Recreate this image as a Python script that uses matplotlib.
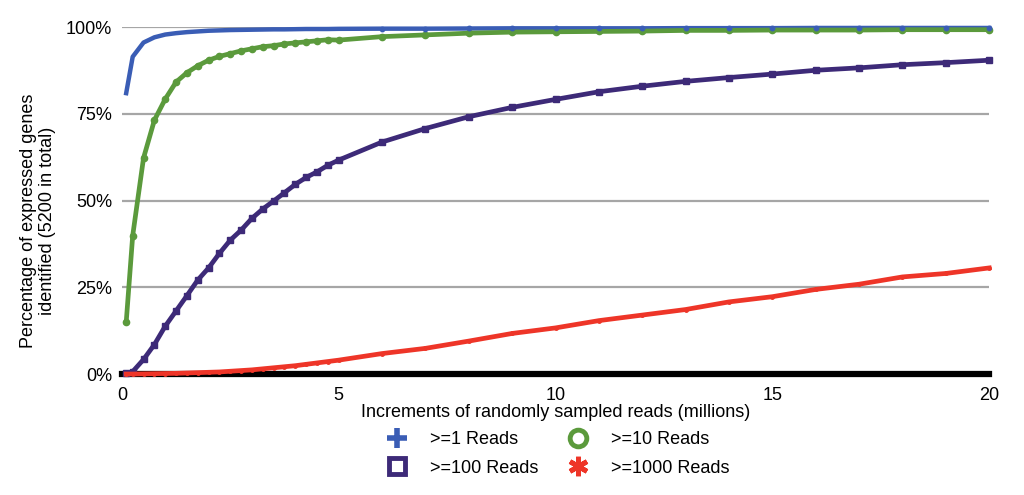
import matplotlib
matplotlib.use("Agg")
import matplotlib.pyplot as plt
from matplotlib.lines import Line2D

plt.rcParams['font.family'] = ['Liberation Sans', 'DejaVu Sans']

x_reads = [0.1, 0.25, 0.5, 0.75, 1.0, 1.25, 1.5, 1.75, 2.0, 2.25, 2.5, 2.75,
           3.0, 3.25, 3.5, 3.75, 4.0, 4.25, 4.5, 4.75, 5.0,
           6, 7, 8, 9, 10, 11, 12, 13, 14, 15, 16, 17, 18, 19, 20]

ge1 = [81.0, 91.5, 95.6, 97.1, 97.9, 98.3, 98.6, 98.8, 99.0, 99.1, 99.2, 99.25,
       99.3, 99.35, 99.4, 99.4, 99.45, 99.5, 99.5, 99.5, 99.55,
       99.6, 99.6, 99.65, 99.7, 99.7, 99.7, 99.7, 99.75, 99.75, 99.75, 99.8,
       99.8, 99.8, 99.8, 99.8]

ge10 = [14.9, 39.9, 62.3, 73.2, 79.3, 84.2, 86.9, 88.9, 90.5, 91.6, 92.4, 93.2,
        93.8, 94.4, 94.7, 95.2, 95.5, 95.8, 96.1, 96.4, 96.3,
        97.3, 97.8, 98.3, 98.6, 98.7, 98.8, 98.9, 99.1, 99.1, 99.2, 99.2,
        99.2, 99.3, 99.3, 99.3]

ge100 = [0.2, 0.7, 4.2, 8.5, 13.8, 18.2, 22.6, 27.1, 30.6, 34.8, 38.6, 41.5,
         44.9, 47.6, 49.9, 52.3, 54.7, 56.7, 58.3, 60.2, 61.7,
         66.9, 70.8, 74.2, 76.9, 79.2, 81.4, 83.0, 84.4, 85.5, 86.5, 87.6,
         88.3, 89.2, 89.8, 90.5]

ge1000 = [0.0, 0.0, 0.05, 0.1, 0.15, 0.2, 0.3, 0.4, 0.5, 0.6, 0.8, 1.0,
          1.2, 1.5, 1.8, 2.1, 2.4, 2.8, 3.2, 3.6, 4.0,
          5.9, 7.4, 9.5, 11.7, 13.3, 15.4, 17.0, 18.6, 20.8, 22.3, 24.4,
          25.9, 28.0, 29.0, 30.6]

labels = [">=1 Reads", ">=10 Reads", ">=100 Reads", ">=1000 Reads"]
y_ticks = [0, 25, 50, 75, 100]
y_ticklabels = ["0%", "25%", "50%", "75%", "100%"]
x_ticks = [0, 5, 10, 15, 20]

c_blue = "#3a5db5"
c_green = "#5b9a3c"
c_purple = "#3d2a78"
c_red = "#ee3528"

fig = plt.figure(figsize=(10.24, 4.95), dpi=100)
ax = fig.add_axes([0.119, 0.2444, 0.847, 0.7005])

for y in y_ticks[1:]:
    ax.axhline(y, color="#a6a6a6", lw=1.6, zorder=1)

ax.plot(x_reads, ge1, color=c_blue, lw=3.2, zorder=3, clip_on=False)
ax.plot(x_reads, ge10, color=c_green, lw=3.4, marker='o', ms=4.5, zorder=3.1, clip_on=False)
ax.plot(x_reads[21:], ge1[21:], color=c_blue, lw=0, marker='o', ms=3.2, zorder=3.2, clip_on=False)
ax.plot(x_reads, ge100, color=c_purple, lw=3.4, marker='s', ms=4.5, zorder=3, clip_on=False)
ax.plot(x_reads, ge1000, color=c_red, lw=3.4, marker='o', ms=2.5, zorder=3.3, clip_on=False)

ax.set_xlim(0, 20)
ax.set_ylim(0, 100)
for s in ['top', 'right', 'left']:
    ax.spines[s].set_visible(False)
ax.spines['bottom'].set_linewidth(4.5)
ax.spines['bottom'].set_color('black')
ax.spines['bottom'].set_zorder(2)

ax.set_yticks(y_ticks)
ax.set_yticklabels(y_ticklabels)
ax.set_xticks(x_ticks)
ax.tick_params(axis='y', length=0, labelsize=13, pad=7)
ax.tick_params(axis='x', length=0, labelsize=13, pad=9)

ax.set_xlabel("Increments of randomly sampled reads (millions)", fontsize=13, labelpad=0)
fig.text(0.037, 0.553, "Percentage of expressed genes\nidentified (5200 in total)",
         rotation=90, ha='center', va='center', fontsize=13, linespacing=1.15)

handles = [
    Line2D([], [], color=c_blue, lw=0, marker='+', ms=14, mew=4, mec=c_blue),
    Line2D([], [], color=c_purple, lw=0, marker='s', ms=12, mfc='white', mec=c_purple, mew=3.5),
    Line2D([], [], color=c_green, lw=0, marker='o', ms=12, mfc='white', mec=c_green, mew=3.5),
    Line2D([], [], color=c_red, lw=0, marker=(6, 2, 0), ms=14, mew=3.5, mec=c_red),
]
leg_labels = [labels[0], labels[2], labels[1], labels[3]]
fig.legend(handles, leg_labels, ncol=2, frameon=False, fontsize=13,
           loc='upper left', bbox_to_anchor=(0.367, 0.144), handletextpad=1.0,
           handlelength=1.6, columnspacing=1.4, labelspacing=0.65, borderaxespad=0)

fig.savefig("out.png", dpi=100)
